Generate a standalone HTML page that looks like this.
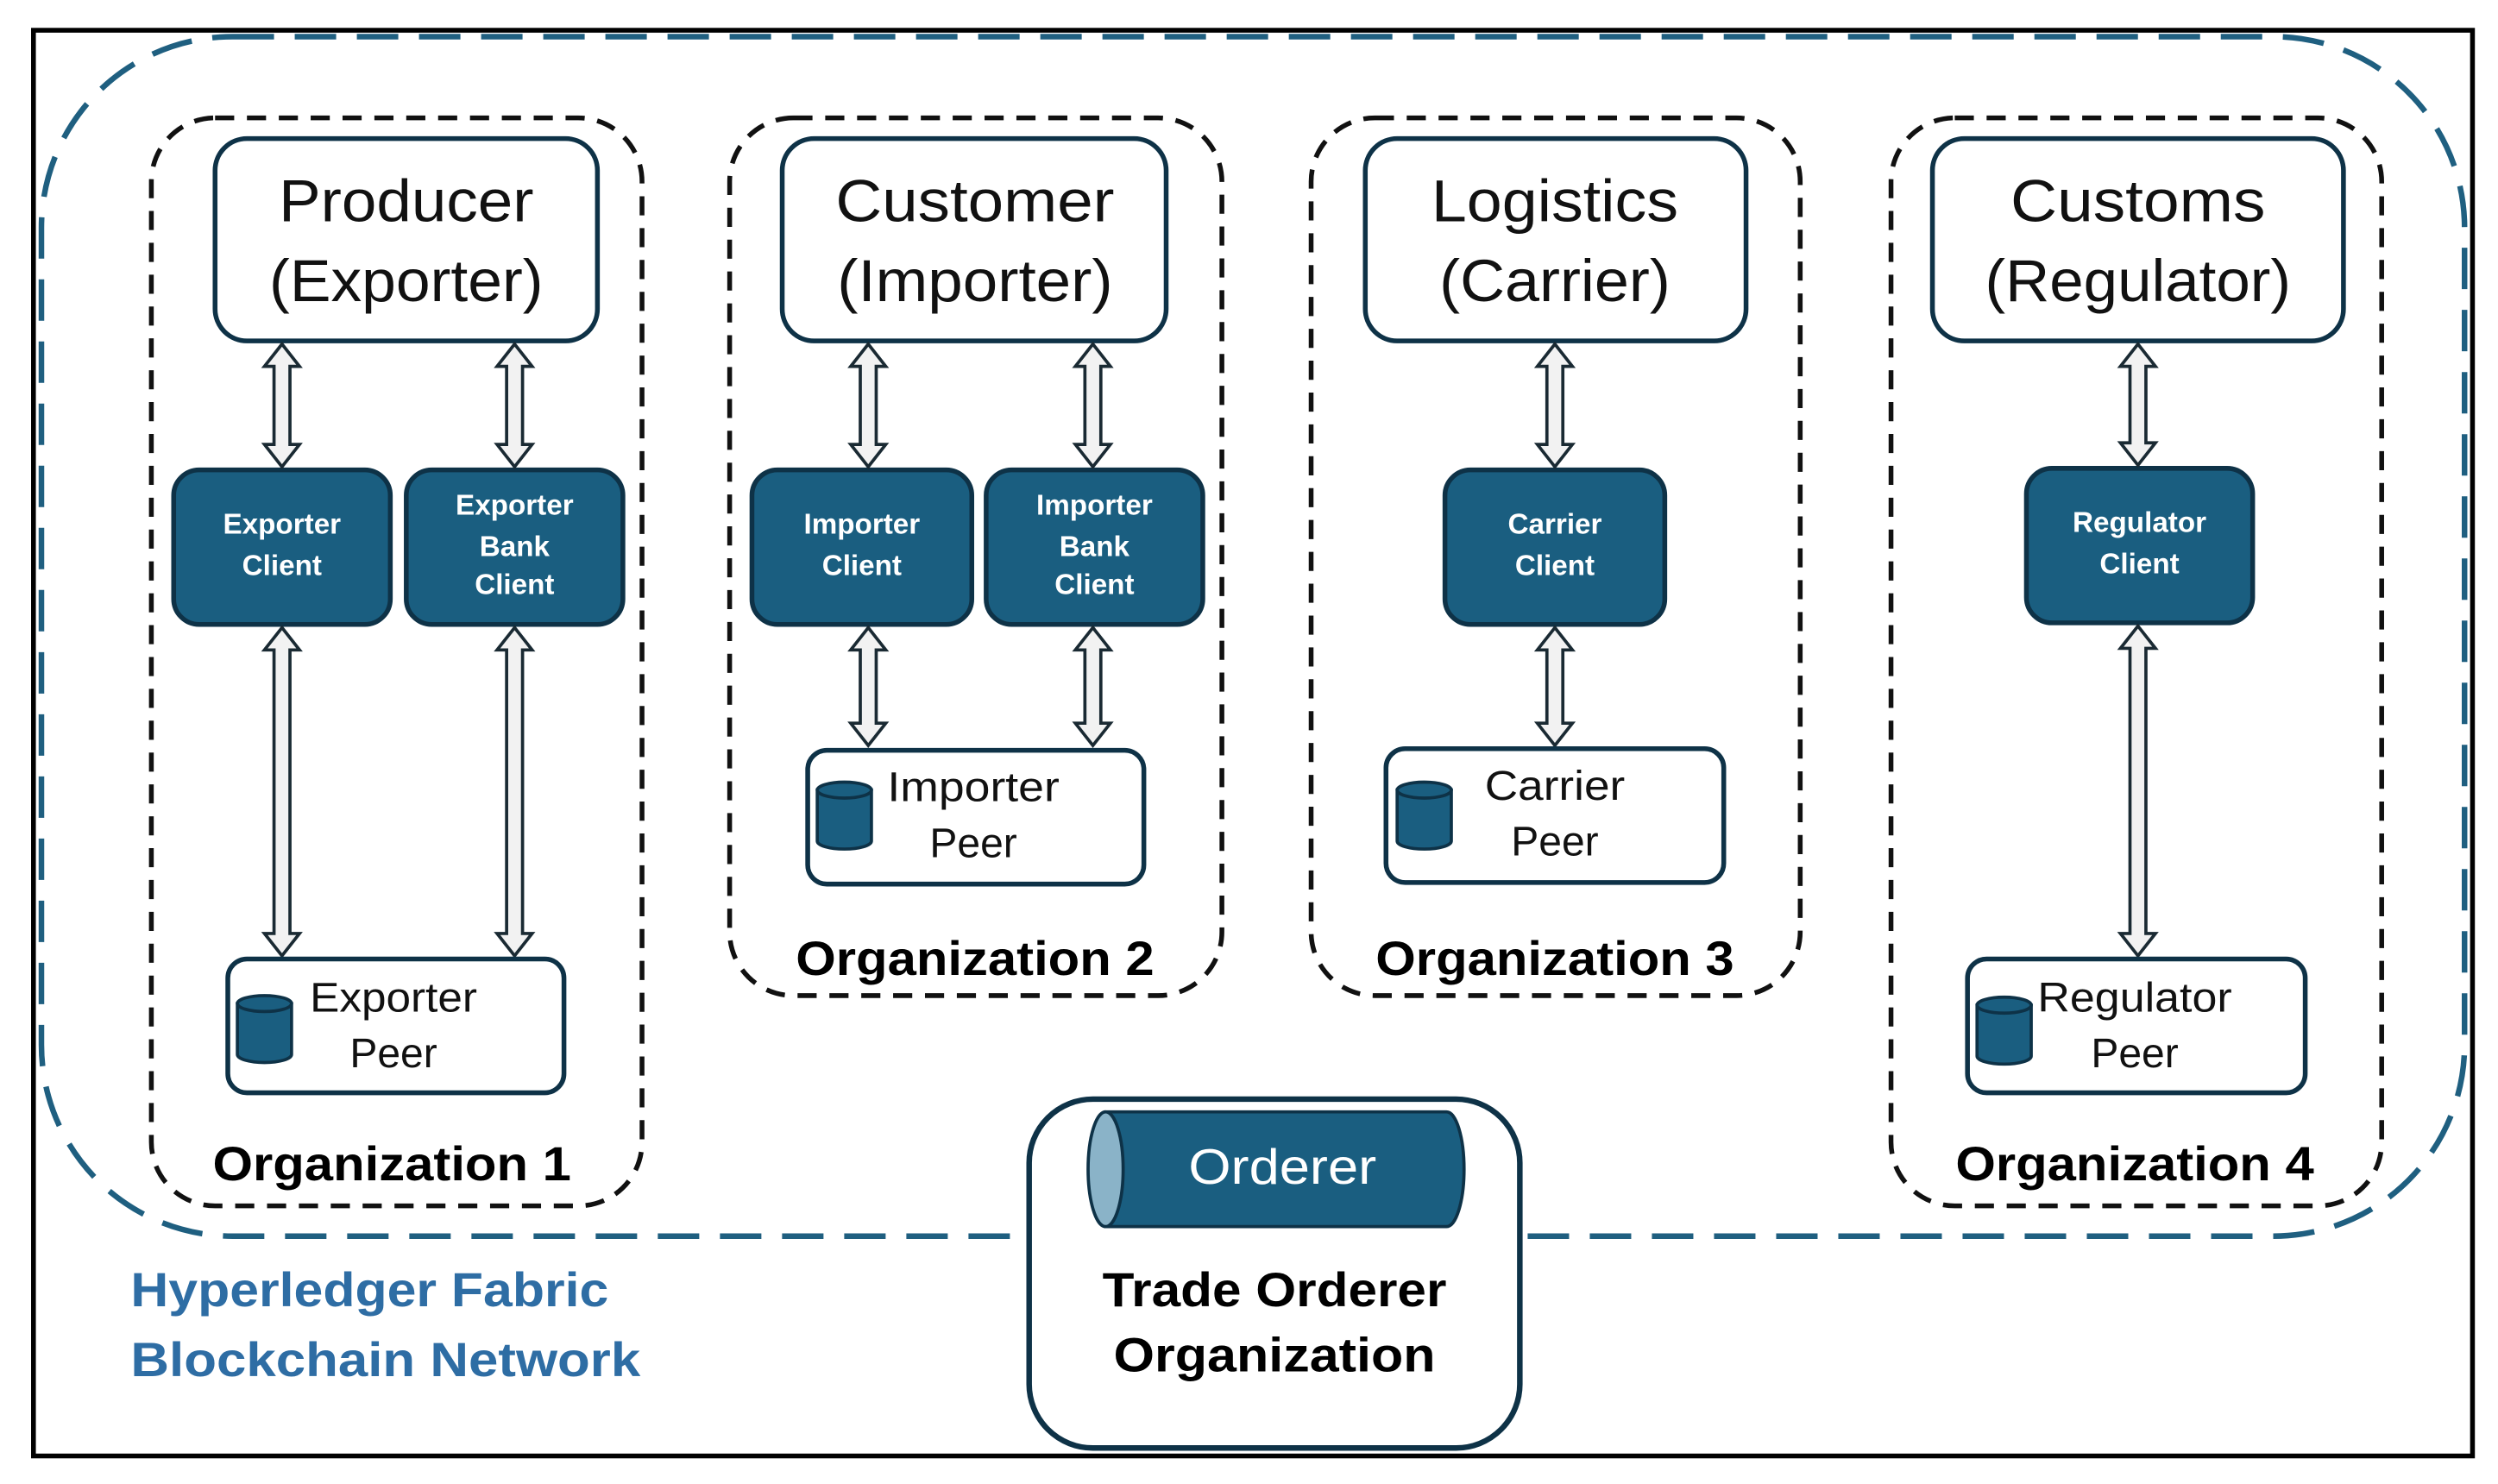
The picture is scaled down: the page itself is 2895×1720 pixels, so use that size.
<!DOCTYPE html>
<html><head><meta charset="utf-8"><style>
html,body{margin:0;padding:0;background:#fff;}
svg{display:block;}
text{font-family:"Liberation Sans",sans-serif;}
</style></head><body>
<svg width="2895" height="1720" viewBox="0 0 1568 931.6" xmlns="http://www.w3.org/2000/svg">
<rect x="0" y="0" width="1568" height="932" fill="#fff"/>
<rect x="21" y="19" width="1531" height="895" fill="none" stroke="#000" stroke-width="3"/>
<rect x="26" y="23" width="1521" height="753" rx="120" fill="none" stroke="#1f5f80" stroke-width="3.5" stroke-dasharray="26,13"/>
<g fill="none" stroke="#111" stroke-width="3" stroke-dasharray="12,8">
<rect x="95" y="74" width="308" height="683" rx="40"/>
<rect x="458" y="74" width="309" height="551" rx="40"/>
<rect x="823" y="74" width="307" height="551" rx="40"/>
<rect x="1187" y="74" width="308" height="683" rx="40"/>
</g>
<g font-weight="bold" font-size="30" text-anchor="middle" fill="#000" lengthAdjust="spacingAndGlyphs">
<rect x="124" y="712" width="244" height="34" fill="#fff"/>
<text x="246" y="741" textLength="225" lengthAdjust="spacingAndGlyphs">Organization 1</text>
<rect x="490" y="583" width="244" height="34" fill="#fff"/>
<text x="612" y="612" textLength="225" lengthAdjust="spacingAndGlyphs">Organization 2</text>
<rect x="854" y="583" width="244" height="34" fill="#fff"/>
<text x="976" y="612" textLength="225" lengthAdjust="spacingAndGlyphs">Organization 3</text>
<rect x="1218" y="712" width="244" height="34" fill="#fff"/>
<text x="1340" y="741" textLength="225" lengthAdjust="spacingAndGlyphs">Organization 4</text>
</g>
<g fill="#fff" stroke="#0e3247" stroke-width="3">
<rect x="135" y="87" width="240" height="127" rx="20"/>
<rect x="491" y="87" width="241" height="127" rx="20"/>
<rect x="857" y="87" width="239" height="127" rx="20"/>
<rect x="1213" y="87" width="258" height="127" rx="20"/>
</g>
<g font-size="37" text-anchor="middle" fill="#111">
<text x="255" y="139" textLength="160" lengthAdjust="spacingAndGlyphs">Producer</text><text x="255" y="189" textLength="172" lengthAdjust="spacingAndGlyphs">(Exporter)</text>
<text x="612" y="139" textLength="175" lengthAdjust="spacingAndGlyphs">Customer</text><text x="612" y="189" textLength="173" lengthAdjust="spacingAndGlyphs">(Importer)</text>
<text x="976" y="139" textLength="155" lengthAdjust="spacingAndGlyphs">Logistics</text><text x="976" y="189" textLength="145" lengthAdjust="spacingAndGlyphs">(Carrier)</text>
<text x="1342" y="139" textLength="160" lengthAdjust="spacingAndGlyphs">Customs</text><text x="1342" y="189" textLength="192" lengthAdjust="spacingAndGlyphs">(Regulator)</text>
</g>
<g fill="#1a5e80" stroke="#0e3247" stroke-width="3">
<rect x="109" y="295" width="136" height="97" rx="16"/>
<rect x="255" y="295" width="136" height="97" rx="16"/>
<rect x="472" y="295" width="138" height="97" rx="16"/>
<rect x="619" y="295" width="136" height="97" rx="16"/>
<rect x="907" y="295" width="138" height="97" rx="16"/>
<rect x="1272" y="294" width="142" height="97" rx="16"/>
</g>
<g font-size="18" font-weight="bold" text-anchor="middle" fill="#fff">
<text x="177" y="335">Exporter</text><text x="177" y="361">Client</text>
<text x="323" y="323">Exporter</text><text x="323" y="349">Bank</text><text x="323" y="373">Client</text>
<text x="541" y="335">Importer</text><text x="541" y="361">Client</text>
<text x="687" y="323">Importer</text><text x="687" y="349">Bank</text><text x="687" y="373">Client</text>
<text x="976" y="335">Carrier</text><text x="976" y="361">Client</text>
<text x="1343" y="334">Regulator</text><text x="1343" y="360">Client</text>
</g>
<g fill="#f2f2f2" stroke="#1a2a33" stroke-width="2">
<polygon points="177,216 188,230 182,230 182,279 188,279 177,293 166,279 172,279 172,230 166,230"/>
<polygon points="177,394 188,408 182,408 182,586 188,586 177,600 166,586 172,586 172,408 166,408"/>
<polygon points="323,216 334,230 328,230 328,279 334,279 323,293 312,279 318,279 318,230 312,230"/>
<polygon points="323,394 334,408 328,408 328,586 334,586 323,600 312,586 318,586 318,408 312,408"/>
<polygon points="545,216 556,230 550,230 550,279 556,279 545,293 534,279 540,279 540,230 534,230"/>
<polygon points="545,394 556,408 550,408 550,454 556,454 545,468 534,454 540,454 540,408 534,408"/>
<polygon points="686,216 697,230 691,230 691,279 697,279 686,293 675,279 681,279 681,230 675,230"/>
<polygon points="686,394 697,408 691,408 691,454 697,454 686,468 675,454 681,454 681,408 675,408"/>
<polygon points="976,216 987,230 981,230 981,279 987,279 976,293 965,279 971,279 971,230 965,230"/>
<polygon points="976,394 987,408 981,408 981,454 987,454 976,468 965,454 971,454 971,408 965,408"/>
<polygon points="1342,216 1353,230 1347,230 1347,278 1353,278 1342,292 1331,278 1337,278 1337,230 1331,230"/>
<polygon points="1342,393 1353,407 1347,407 1347,586 1353,586 1342,600 1331,586 1337,586 1337,407 1331,407"/>
</g>
<g fill="#fff" stroke="#0e3247" stroke-width="3">
<rect x="143" y="602" width="211" height="84" rx="12"/>
<rect x="507" y="471" width="211" height="84" rx="12"/>
<rect x="870" y="470" width="212" height="84" rx="12"/>
<rect x="1235" y="602" width="212" height="84" rx="12"/>
</g>
<g fill="#1a5e80" stroke="#0e3247" stroke-width="2">
<path d="M149,630 v32 a17,5 0 0 0 34,0 v-32 z"/><ellipse cx="166" cy="630" rx="17" ry="5"/>
<path d="M513,496 v32 a17,5 0 0 0 34,0 v-32 z"/><ellipse cx="530" cy="496" rx="17" ry="5"/>
<path d="M877,496 v32 a17,5 0 0 0 34,0 v-32 z"/><ellipse cx="894" cy="496" rx="17" ry="5"/>
<path d="M1241,631 v32 a17,5 0 0 0 34,0 v-32 z"/><ellipse cx="1258" cy="631" rx="17" ry="5"/>
</g>
<g font-size="26" text-anchor="middle" fill="#111">
<text x="247" y="635" textLength="105" lengthAdjust="spacingAndGlyphs">Exporter</text><text x="247" y="670">Peer</text>
<text x="611" y="503" textLength="108" lengthAdjust="spacingAndGlyphs">Importer</text><text x="611" y="538">Peer</text>
<text x="976" y="502" textLength="88" lengthAdjust="spacingAndGlyphs">Carrier</text><text x="976" y="537">Peer</text>
<text x="1340" y="635" textLength="122" lengthAdjust="spacingAndGlyphs">Regulator</text><text x="1340" y="670">Peer</text>
</g>
<rect x="646" y="690" width="308" height="219" rx="40" fill="#fff" stroke="#0e3247" stroke-width="3.5"/>
<path d="M694,698 H908 a11,36 0 0 1 0,72 H694 z" fill="#1a5e80" stroke="#0e3247" stroke-width="2"/>
<ellipse cx="694" cy="734" rx="11" ry="36" fill="#8ab3c8" stroke="#0e3247" stroke-width="2"/>
<text x="805" y="743" font-size="31" text-anchor="middle" fill="#fff" textLength="118" lengthAdjust="spacingAndGlyphs">Orderer</text>
<g font-size="30" font-weight="bold" text-anchor="middle" fill="#000">
<text x="800" y="820" textLength="216" lengthAdjust="spacingAndGlyphs">Trade Orderer</text><text x="800" y="861" textLength="202" lengthAdjust="spacingAndGlyphs">Organization</text>
</g>
<g font-size="30" font-weight="bold" fill="#2e6da4">
<text x="82" y="820" textLength="300" lengthAdjust="spacingAndGlyphs">Hyperledger Fabric</text><text x="82" y="864" textLength="320" lengthAdjust="spacingAndGlyphs">Blockchain Network</text>
</g>
</svg>
</body></html>
